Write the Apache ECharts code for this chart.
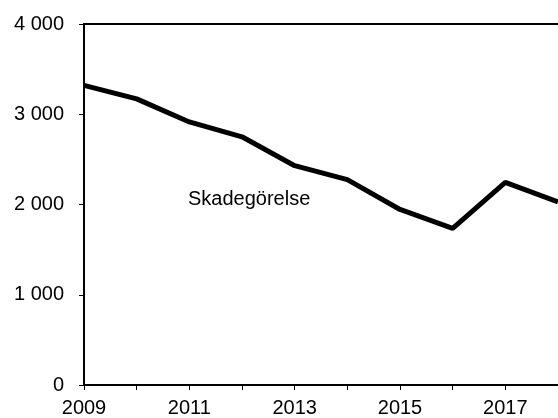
<!DOCTYPE html>
<html>
<head>
<meta charset="utf-8">
<script src="https://cdn.jsdelivr.net/npm/echarts@6/dist/echarts.min.js"></script>
<style>
  html, body { margin: 0; padding: 0; background: #fff; }
  #chart { width: 558px; height: 418px; }
</style>
</head>
<body>
<div id="chart"></div>
<script>
// år och antal anmälda skadegörelsebrott
const years = ['2009', '2010', '2011', '2012', '2013', '2014', '2015', '2016', '2017', '2018']
const skadegorelse = [3320, 3170, 2915, 2750, 2430, 2275, 1945, 1735, 2245, 2030]
const seriesLabel = 'Skadegörelse'

const font = 'Liberation Sans, Arial, sans-serif'

const chart = echarts.init(document.getElementById('chart'))

const option = {
  animation: false,
  grid: {
    left: 84,
    right: 0,
    top: 24,
    bottom: 33
  },
  xAxis: [
    {
      type: 'category',
      data: years,
      boundaryGap: false,
      axisLine: {
        lineStyle: { color: '#000', width: 2 }
      },
      axisTick: {
        show: true,
        interval: 0,
        length: 5,
        lineStyle: { color: '#000', width: 1 }
      },
      axisLabel: {
        interval: 1,
        color: '#000',
        fontSize: 20,
        fontFamily: font,
        margin: 13
      },
      splitLine: { show: false }
    },
    {
      // bara övre ramlinjen
      type: 'category',
      data: years,
      position: 'top',
      boundaryGap: false,
      axisLine: {
        lineStyle: { color: '#000', width: 2 }
      },
      axisTick: { show: false },
      axisLabel: { show: false }
    }
  ],
  yAxis: {
    type: 'value',
    min: 0,
    max: 4000,
    interval: 1000,
    axisLine: {
      show: true,
      lineStyle: { color: '#000', width: 2 }
    },
    axisTick: {
      show: true,
      length: 5,
      lineStyle: { color: '#000', width: 1 }
    },
    axisLabel: {
      color: '#000',
      fontSize: 20,
      fontFamily: font,
      margin: 20,
      formatter: (v) => String(v).replace(/\B(?=(\d{3})+(?!\d))/g, ' ')
    },
    splitLine: { show: false }
  },
  graphic: [
    {
      type: 'text',
      left: 188,
      top: 189,
      style: {
        text: seriesLabel,
        fill: '#000',
        fontSize: 20,
        fontFamily: font
      }
    }
  ],
  series: [
    {
      name: seriesLabel,
      type: 'line',
      data: skadegorelse,
      symbol: 'none',
      lineStyle: { color: '#000', width: 5 },
      clip: false
    }
  ]
}

chart.setOption(option)
</script>
</body>
</html>
